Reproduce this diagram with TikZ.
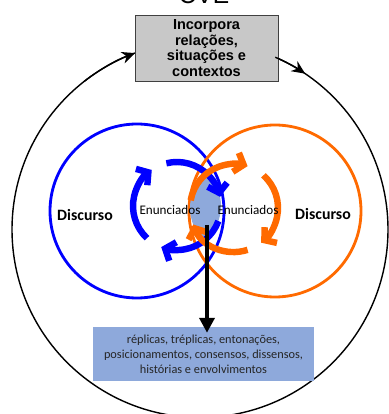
\documentclass[tikz,border=0pt]{standalone}
\usepackage{fontspec}
\setmainfont{Carlito}
\newfontfamily\arialfont{Liberation Sans}
\usetikzlibrary{arrows.meta}
\definecolor{cveblue}{RGB}{0,0,255}
\definecolor{cveorange}{RGB}{255,106,0}
\definecolor{lensblue}{RGB}{142,169,219}
\definecolor{boxgray}{RGB}{200,200,200}
\definecolor{textgray}{RGB}{38,38,38}

\begin{document}
\begin{tikzpicture}[>={Stealth[length=4mm,width=3.6mm]}, x=0.03cm, y=0.03cm,
    ring/.style={line width=2.4pt},
    spinarrow/.style={line width=5.5pt, -{Straight Barb[length=7pt,width=17pt]}},
    label/.style={font=\fontsize{11.2}{11.2}\selectfont},
    ]
    \useasboundingbox (0,0) rectangle (389,414);
    \node[anchor=base, font=\arialfont\fontsize{21}{21}\selectfont] (title) at (204,410.5) {CVE};

    % outer cycle
    \coordinate (centre) at (200,184.5);
    \draw[line width=1.2pt] (centre) circle[radius=188];
    \node[draw=black!75, fill=boxgray, minimum width=4.29cm, minimum height=1.98cm, inner sep=0pt,
        align=center, font=\arialfont\bfseries\fontsize{12.4}{13.2}\selectfont] (incorpora) at (206.5,366)
        {Incorpora\\relações,\\situações e\\contextos};
    \draw[line width=1.2pt, ->] (centre) ++(128:188) arc[start angle=128, end angle=110.2, radius=188];
    \draw[line width=1.2pt, ->] (centre) ++(66.4:188) arc[start angle=66.4, end angle=56, radius=188];

    % the two discourses
    \draw[ring, cveblue] (137,203) coordinate (blue_disc) circle[radius=87];
    \draw[ring, cveorange] (275,203) coordinate (orange_disc) circle[radius=86];

    \coordinate (blue_c) at (177,208);
    \coordinate (orange_c) at (234,206);
    \begin{scope}
        \clip (blue_c) circle[radius=44];
        \fill[lensblue] (orange_c) circle[radius=44];
    \end{scope}

    \foreach \a/\b in {227/125, 104/12, -20/-111}
        \draw[spinarrow, cveblue] (blue_c) ++(\a:44) arc[start angle=\a, end angle=\b, radius=44];
    \foreach \a/\b in {170/72, 48/-52, -72/-158}
        \draw[spinarrow, cveorange] (orange_c) ++(\a:44) arc[start angle=\a, end angle=\b, radius=44];

    \node[font=\bfseries\fontsize{13.5}{13.5}\selectfont] (discurso_l) at (85,199) {Discurso};
    \node[font=\bfseries\fontsize{13.5}{13.5}\selectfont] (discurso_r) at (323,200) {Discurso};
    \node[label] (enunciados_l) at (170,204) {Enunciados};
    \node[label] (enunciados_r) at (248,204) {Enunciados};

    % what comes out of the meeting
    \node[fill=lensblue, minimum width=6.63cm, minimum height=1.62cm, inner sep=0pt, align=center,
        text=textgray, font=\fontsize{10.5}{12.8}\selectfont] (replicas) at (203.5,60)
        {réplicas, tréplicas, entonações,\\posicionamentos, consensos, dissensos,\\histórias e envolvimentos};
    \coordinate (lens_bot) at (207,189);
    \draw[line width=3.4pt, -{Triangle[length=4.5mm,width=4.5mm]}, shorten >=-1.8mm]
        (lens_bot) -- (lens_bot |- replicas.north);
\end{tikzpicture}
\end{document}
